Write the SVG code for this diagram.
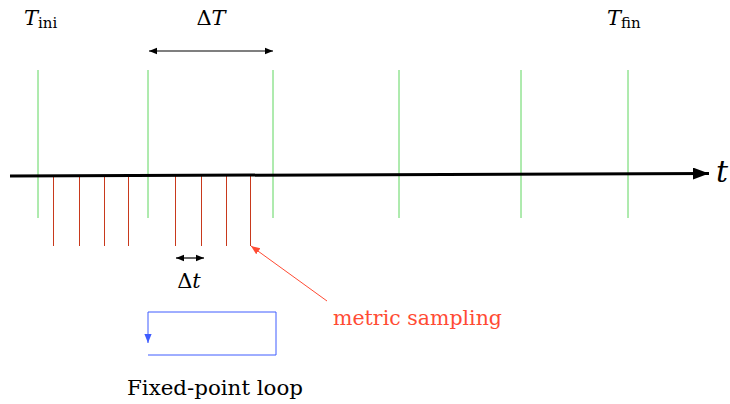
<svg xmlns="http://www.w3.org/2000/svg" width="730" height="404" viewBox="0 0 730 404">
<style>
.g{stroke:#5fd65f;stroke-width:1}
.r{stroke:#c8391c;stroke-width:1}
.t{font-family:"DejaVu Serif","Liberation Serif",serif;fill:#000}
.i{font-style:italic}
</style>
<defs>
<marker id="ah" viewBox="0 0 10 10" refX="10" refY="5" markerWidth="8" markerHeight="8" markerUnits="userSpaceOnUse" orient="auto-start-reverse"><path d="M0,1 L10,5 L0,9 z" fill="#000"/></marker>
<marker id="big" viewBox="0 0 10 10" refX="10" refY="5" markerWidth="16" markerHeight="12" markerUnits="userSpaceOnUse" orient="auto" preserveAspectRatio="none"><path d="M0,0 L10,5 L0,10 z" fill="#000"/></marker>
<marker id="ra" viewBox="0 0 10 10" refX="10" refY="5" markerWidth="9" markerHeight="9" markerUnits="userSpaceOnUse" orient="auto"><path d="M0,1 L10,5 L0,9 z" fill="#ff4b33"/></marker>
<marker id="ba" viewBox="0 0 10 10" refX="10" refY="5" markerWidth="9" markerHeight="9" markerUnits="userSpaceOnUse" orient="auto"><path d="M0,1 L10,5 L0,9 z" fill="#3f5cff"/></marker>
</defs>
<g id="connectors">
<g id="green-ticks">
<line class="g" x1="38" y1="70" x2="38" y2="218"/>
<line class="g" x1="148" y1="70" x2="148" y2="218"/>
<line class="g" x1="273" y1="70" x2="273" y2="218"/>
<line class="g" x1="399" y1="70" x2="399" y2="218"/>
<line class="g" x1="521" y1="70" x2="521" y2="218"/>
<line class="g" x1="628" y1="70" x2="628" y2="218"/>
</g>
<g id="red-ticks">
<line class="r" x1="53.5" y1="176" x2="53.5" y2="246"/>
<line class="r" x1="79.5" y1="176" x2="79.5" y2="246"/>
<line class="r" x1="104.5" y1="176" x2="104.5" y2="246"/>
<line class="r" x1="128.5" y1="176" x2="128.5" y2="246"/>
<line class="r" x1="175.5" y1="176" x2="175.5" y2="246"/>
<line class="r" x1="201.5" y1="176" x2="201.5" y2="246"/>
<line class="r" x1="226.5" y1="176" x2="226.5" y2="246"/>
<line class="r" x1="250.5" y1="176" x2="250.5" y2="246"/>
</g>
<line id="axis" x1="10" y1="176" x2="709" y2="173.5" stroke="#000" stroke-width="3" marker-end="url(#big)"/>
<line id="dT" x1="149" y1="51" x2="273" y2="51" stroke="#000" stroke-width="1.2" marker-start="url(#ah)" marker-end="url(#ah)"/>
<line id="dt" x1="176" y1="258" x2="204" y2="258" stroke="#000" stroke-width="1.2" marker-start="url(#ah)" marker-end="url(#ah)"/>
<line id="sampling-arrow" x1="327" y1="301" x2="251" y2="246" stroke="#ff4b33" stroke-width="1" marker-end="url(#ra)"/>
<g id="loop" fill="none" stroke="#3f5cff" stroke-width="1">
<path d="M148,355 H276 V312 H148 V343" marker-end="url(#ba)"/>
</g>
</g>
<g id="labels">
<text class="t i" x="24" y="25" font-size="21">T<tspan font-style="normal" font-size="15" dy="3">ini</tspan></text>
<text class="t" x="211" y="25" font-size="21" text-anchor="middle">Δ<tspan font-style="italic">T</tspan></text>
<text class="t i" x="607" y="25" font-size="21">T<tspan font-style="normal" font-size="15" dy="3">fin</tspan></text>
<text class="t i" x="716" y="182" font-size="30">t</text>
<text class="t" x="189" y="288" font-size="21" text-anchor="middle">Δ<tspan font-style="italic">t</tspan></text>
<text class="t" x="333" y="325" font-size="20" textLength="169" lengthAdjust="spacingAndGlyphs" style="fill:#ff4b33">metric sampling</text>
<text class="t" x="127" y="395" font-size="20" textLength="176" lengthAdjust="spacingAndGlyphs">Fixed-point loop</text>
</g>
</svg>
